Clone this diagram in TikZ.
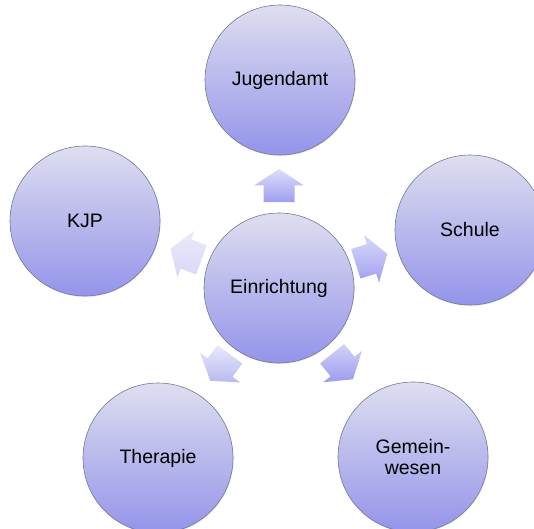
\documentclass[tikz,border=0pt]{standalone}
\usepackage{fontspec}
\setmainfont{Liberation Sans}
\usetikzlibrary{shadows}
\definecolor{ctop}{RGB}{222,222,240}
\definecolor{cbot}{RGB}{148,148,234}
\definecolor{cline}{RGB}{118,118,150}
\definecolor{aTa}{RGB}{222,222,250}\definecolor{aBa}{RGB}{158,158,240}
\definecolor{aTb}{RGB}{216,216,250}\definecolor{aBb}{RGB}{160,160,240}
\definecolor{aTc}{RGB}{210,210,248}\definecolor{aBc}{RGB}{156,156,238}
\definecolor{aTd}{RGB}{232,232,250}\definecolor{aBd}{RGB}{186,186,240}
\definecolor{aTe}{RGB}{234,234,250}\definecolor{aBe}{RGB}{216,216,246}
\tikzset{
  bubble/.style={circle, minimum size=150pt, inner sep=0pt, top color=ctop, bottom color=cbot,
    draw=cline, line width=0.6pt, align=center, text=black,
    font=\fontsize{19.5}{20.5}\selectfont,
    drop shadow={opacity=0.2, shadow xshift=0.6pt, shadow yshift=-1pt}},
  blockarrow/.style={draw=none}
}
\newcommand{\blkarrow}[4]{%
  \begin{scope}[shift={(ctr.center)}, rotate=#1]
    \path[blockarrow, top color=#3, bottom color=#4] (#2-16.5,-15.5) -- (#2,-15.5) -- (#2,-25) -- (#2+16.5,0)
      -- (#2,25) -- (#2,15.5) -- (#2-16.5,15.5) -- cycle;
  \end{scope}}
\begin{document}
\begin{tikzpicture}[x=1pt,y=1pt]
\useasboundingbox (0,0) rectangle (534,528);
\node[bubble] (ctr) at (279,240) {Einrichtung};
\node[bubble] (jug) at (280,448) {Jugendamt};
\node[bubble] (sch) at (470,298) {Schule};
\node[bubble] (gem) at (413,71) {Gemein-\\wesen};
\node[bubble] (the) at (158,70) {Therapie};
\node[bubble] (kjp) at (85,307) {KJP};
\blkarrow{90}{102.5}{aTa}{aBa}
\blkarrow{17.5}{97}{aTb}{aBb}
\blkarrow{-51}{101}{aTc}{aBc}
\blkarrow{-126.5}{99}{aTd}{aBd}
\blkarrow{160}{99}{aTe}{aBe}
\end{tikzpicture}
\end{document}
